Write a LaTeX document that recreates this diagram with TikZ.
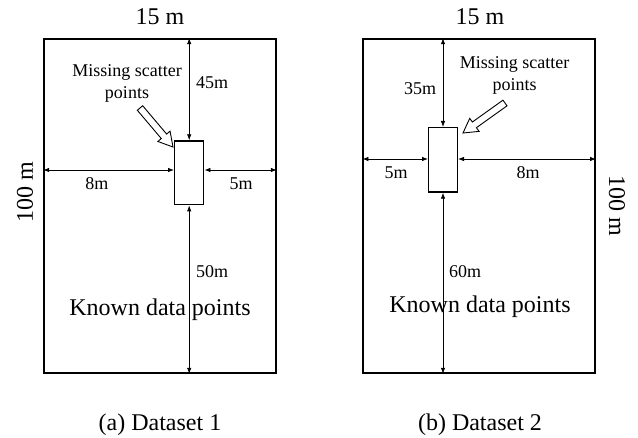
\documentclass[tikz,border=0pt]{standalone}
\usepackage{fontspec}
\setmainfont{Liberation Serif}
\usetikzlibrary{arrows.meta,calc}

\tikzset{
  field/.style={draw, line width=1.6pt, minimum width=232pt, minimum height=334pt, inner sep=0pt},
  hole/.style={draw, line width=1.4pt, inner sep=0pt},
  dimline/.style={line width=0.8pt, {Latex[length=6pt,width=4.5pt]}-{Latex[length=6pt,width=4.5pt]}},
  dimlabel/.style={font=\fontsize{18}{20}\selectfont, inner sep=0pt},
  biglabel/.style={font=\fontsize{24}{26}\selectfont, inner sep=0pt},
  notelabel/.style={font=\fontsize{18}{22}\selectfont, align=center, inner sep=0pt},
  hollow/.style={draw, line width=0.9pt, fill=white, line join=miter},
}

% hollow block arrow from tail #1 to tip #2
\newcommand{\blockarrow}[2]{%
  \coordinate (hb) at ($(#2)!14pt!(#1)$);
  \draw[hollow] ($(#1)!3.5pt!90:(#2)$) -- ($(hb)!3.5pt!-90:(#1)$) -- ($(hb)!8pt!-90:(#1)$)
    -- (#2) -- ($(hb)!8pt!90:(#1)$) -- ($(hb)!3.5pt!90:(#1)$) -- ($(#1)!3.5pt!-90:(#2)$) -- cycle;
}

\begin{document}
\begin{tikzpicture}[x=1pt,y=-1pt]
\useasboundingbox (0,0) rectangle (638,438);

% ---------- (a) Dataset 1 ----------
\node[field] (fa) at (160,206) {};
\node[hole, minimum width=29pt, minimum height=63.7pt] (ma) at (189.2,172.85) {};
\coordinate (ha) at (0,170);
\draw[dimline] (fa.north -| ma.north) -- (ma.north);
\draw[dimline] (ma.south) -- (fa.south -| ma.south);
\draw[dimline] (fa.west |- ha) -- (ma.west |- ha);
\draw[dimline] (ma.east |- ha) -- (fa.east |- ha);

\node[dimlabel] (a45) at (212,83) {45m};
\node[dimlabel] (a8) at (97,184) {8m};
\node[dimlabel] (a5) at (241,184) {5m};
\node[dimlabel] (a50) at (212,272) {50m};
\node[biglabel] (aknown) at (160,310) {Known data points};
\node[biglabel] (awidth) at (160,17) {15 m};
\node[biglabel, rotate=90] (aheight) at (25,192) {100 m};
\node[notelabel] (amiss) at (127,83) {Missing scatter\\points};
\node[biglabel] (acap) at (160,425) {(a) Dataset 1};

\coordinate (atail) at (140,108);
\coordinate (atip) at (173,147);
\blockarrow{atail}{atip}

% ---------- (b) Dataset 2 ----------
\node[field] (fb) at (479.2,206) {};
\node[hole, minimum width=28.6pt, minimum height=64.3pt] (mb) at (443,159.85) {};
\coordinate (hbb) at (0,159);
\draw[dimline] (fb.north -| mb.north) -- (mb.north);
\draw[dimline] (mb.south) -- (fb.south -| mb.south);
\draw[dimline] (fb.west |- hbb) -- (mb.west |- hbb);
\draw[dimline] (mb.east |- hbb) -- (fb.east |- hbb);

\node[dimlabel] (b35) at (420,89) {35m};
\node[dimlabel] (b5) at (396,173) {5m};
\node[dimlabel] (b8) at (528,173) {8m};
\node[dimlabel] (b60) at (465,272) {60m};
\node[biglabel] (bknown) at (480,307) {Known data points};
\node[biglabel] (bwidth) at (480,17) {15 m};
\node[biglabel, rotate=-90] (bheight) at (617,206) {100 m};
\node[notelabel] (bmiss) at (514.7,75.5) {Missing scatter\\points};
\node[biglabel] (bcap) at (480,425) {(b) Dataset 2};

\coordinate (btail) at (505,103);
\coordinate (btip) at (463,133);
\blockarrow{btail}{btip}
\end{tikzpicture}
\end{document}
